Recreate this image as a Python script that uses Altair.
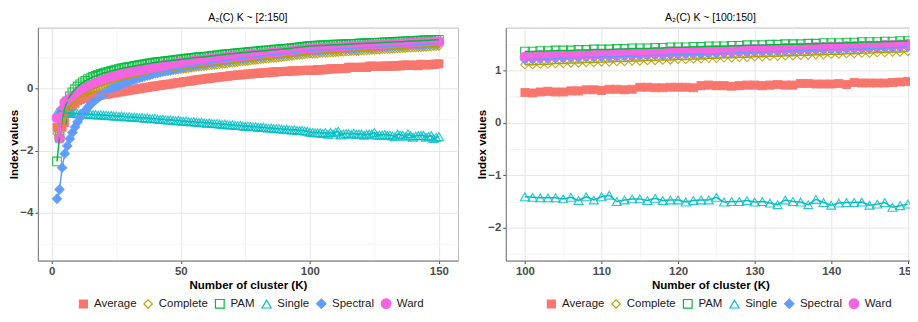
import altair as alt
import pandas as pd

METHODS = ["Average", "Complete", "PAM", "Single", "Spectral", "Ward"]
COLORS = ["#F8766D", "#B79F00", "#00BA38", "#00BFC4", "#619CFF", "#F564E3"]
FILLS = ["#F8766D", "transparent", "transparent", "transparent", "#619CFF", "#F564E3"]
SHAPES = ["square", "diamond", "square", "triangle-up", "diamond", "circle"]
SIZES = [64, 95, 64, 85, 60, 64]

K = list(range(2, 151))

AVERAGE = [
    -1.25, -1.60, -1.25, -1.10, -0.72, -0.75, -0.55, -0.48, -0.40, -0.36,
    -0.33, -0.31, -0.29, -0.27, -0.26, -0.24, -0.23, -0.22, -0.20, -0.19,
    -0.18, -0.16, -0.15, -0.13, -0.12, -0.11, -0.09, -0.08, -0.06, -0.05,
    -0.04, -0.02, -0.01, 0.00, 0.02, 0.03, 0.04, 0.06, 0.07, 0.08,
    0.09, 0.11, 0.12, 0.13, 0.14, 0.16, 0.17, 0.18, 0.19, 0.21,
    0.22, 0.23, 0.24, 0.26, 0.27, 0.28, 0.29, 0.30, 0.31, 0.32,
    0.33, 0.34, 0.35, 0.36, 0.37, 0.38, 0.39, 0.40, 0.41, 0.42,
    0.43, 0.43, 0.44, 0.45, 0.46, 0.46, 0.47, 0.48, 0.48, 0.49,
    0.50, 0.50, 0.51, 0.52, 0.52, 0.53, 0.53, 0.54, 0.54, 0.55,
    0.55, 0.56, 0.56, 0.56, 0.57, 0.57, 0.58, 0.58,
    0.58, 0.57, 0.59, 0.60, 0.59, 0.59, 0.61, 0.61, 0.63, 0.63,
    0.62, 0.64, 0.64, 0.63, 0.64, 0.68, 0.68, 0.67, 0.67, 0.68,
    0.68, 0.68, 0.67, 0.71, 0.72, 0.71, 0.71, 0.70, 0.71, 0.72,
    0.72, 0.71, 0.72, 0.73, 0.72, 0.72, 0.75, 0.75, 0.74, 0.74,
    0.74, 0.75, 0.73, 0.77, 0.76, 0.76, 0.76, 0.76, 0.77, 0.78, 0.79,
]

COMPLETE = [
    -1.45, -1.20, -0.98, -0.82, -0.68, -0.57, -0.48, -0.40, -0.33, -0.27,
    -0.21, -0.16, -0.11, -0.07, -0.03, 0.01, 0.04, 0.07, 0.10, 0.13,
    0.16, 0.18, 0.21, 0.23, 0.25, 0.27, 0.29, 0.31, 0.33, 0.35,
    0.37, 0.38, 0.40, 0.41, 0.43, 0.44, 0.46, 0.47, 0.49, 0.50,
    0.51, 0.53, 0.54, 0.55, 0.56, 0.58, 0.59, 0.60, 0.61, 0.62,
    0.63, 0.64, 0.66, 0.67, 0.68, 0.69, 0.70, 0.71, 0.72, 0.73,
    0.74, 0.75, 0.76, 0.77, 0.78, 0.79, 0.80, 0.81, 0.82, 0.83,
    0.84, 0.85, 0.86, 0.87, 0.88, 0.89, 0.90, 0.91, 0.92, 0.93,
    0.94, 0.95, 0.96, 0.97, 0.97, 0.98, 0.99, 1.00, 1.01, 1.02,
    1.03, 1.04, 1.05, 1.06, 1.07, 1.08, 1.09, 1.10,
    1.11, 1.11, 1.12, 1.12, 1.13, 1.13, 1.14, 1.14, 1.15, 1.15,
    1.16, 1.16, 1.17, 1.17, 1.18, 1.18, 1.19, 1.19, 1.20, 1.20,
    1.21, 1.21, 1.22, 1.22, 1.23, 1.23, 1.24, 1.24, 1.25, 1.25,
    1.26, 1.26, 1.27, 1.27, 1.28, 1.28, 1.29, 1.29, 1.30, 1.30,
    1.31, 1.31, 1.32, 1.32, 1.33, 1.33, 1.34, 1.34, 1.35, 1.35, 1.36,
]

PAM = [
    -2.35, -1.55, -1.00, -0.65, -0.42, -0.26, -0.13, -0.03, 0.06, 0.13,
    0.19, 0.24, 0.29, 0.33, 0.37, 0.40, 0.43, 0.46, 0.49, 0.51,
    0.53, 0.56, 0.58, 0.60, 0.62, 0.64, 0.66, 0.67, 0.69, 0.70,
    0.72, 0.73, 0.75, 0.76, 0.78, 0.79, 0.80, 0.82, 0.83, 0.84,
    0.85, 0.86, 0.87, 0.88, 0.89, 0.90, 0.91, 0.92, 0.93, 0.94,
    0.95, 0.96, 0.97, 0.98, 0.99, 1.00, 1.00, 1.01, 1.02, 1.03,
    1.04, 1.05, 1.06, 1.07, 1.08, 1.09, 1.10, 1.10, 1.11, 1.12,
    1.13, 1.14, 1.15, 1.15, 1.16, 1.17, 1.18, 1.18, 1.19, 1.20,
    1.21, 1.21, 1.22, 1.23, 1.24, 1.24, 1.25, 1.26, 1.27, 1.27,
    1.28, 1.29, 1.30, 1.31, 1.32, 1.33, 1.34, 1.35,
    1.36, 1.36, 1.37, 1.37, 1.38, 1.38, 1.38, 1.39, 1.39, 1.40,
    1.40, 1.40, 1.41, 1.41, 1.42, 1.42, 1.42, 1.43, 1.43, 1.44,
    1.44, 1.44, 1.45, 1.45, 1.46, 1.46, 1.46, 1.47, 1.47, 1.48,
    1.48, 1.48, 1.49, 1.49, 1.50, 1.50, 1.50, 1.51, 1.51, 1.52,
    1.52, 1.52, 1.53, 1.53, 1.54, 1.54, 1.54, 1.55, 1.55, 1.56, 1.56,
]

SINGLE = [
    -0.78, -0.72, -0.76, -0.79, -0.80, -0.78, -0.81, -0.80, -0.82, -0.81,
    -0.83, -0.82, -0.84, -0.83, -0.85, -0.84, -0.86, -0.85, -0.87, -0.86,
    -0.88, -0.87, -0.89, -0.89, -0.90, -0.89, -0.91, -0.92, -0.91, -0.93,
    -0.92, -0.94, -0.95, -0.94, -0.96, -0.95, -0.97, -0.98, -0.97, -0.99,
    -1.00, -0.99, -1.01, -1.02, -1.01, -1.03, -1.04, -1.03, -1.05, -1.06,
    -1.05, -1.07, -1.08, -1.07, -1.09, -1.10, -1.09, -1.11, -1.12, -1.11,
    -1.13, -1.14, -1.13, -1.15, -1.16, -1.15, -1.17, -1.18, -1.17, -1.19,
    -1.20, -1.19, -1.21, -1.22, -1.21, -1.23, -1.24, -1.23, -1.25, -1.26,
    -1.25, -1.27, -1.28, -1.27, -1.29, -1.30, -1.29, -1.31, -1.32, -1.31,
    -1.33, -1.34, -1.33, -1.35, -1.36, -1.35, -1.37, -1.38,
    -1.41, -1.42, -1.43, -1.43, -1.43, -1.45, -1.42, -1.48, -1.41, -1.47,
    -1.41, -1.38, -1.50, -1.47, -1.45, -1.45, -1.48, -1.44, -1.48, -1.47,
    -1.47, -1.51, -1.48, -1.47, -1.47, -1.42, -1.51, -1.50, -1.50, -1.48,
    -1.51, -1.50, -1.53, -1.56, -1.47, -1.50, -1.51, -1.56, -1.46, -1.52,
    -1.57, -1.53, -1.52, -1.52, -1.51, -1.57, -1.55, -1.52, -1.61, -1.58, -1.55,
]

SPECTRAL = [
    -3.55, -3.25, -2.55, -2.10, -1.85, -1.62, -1.42, -1.24, -1.08, -0.94,
    -0.82, -0.71, -0.61, -0.52, -0.44, -0.37, -0.30, -0.24, -0.18, -0.13,
    -0.08, -0.03, 0.01, 0.05, 0.09, 0.13, 0.16, 0.19, 0.23, 0.26,
    0.28, 0.31, 0.34, 0.36, 0.39, 0.41, 0.43, 0.46, 0.48, 0.50,
    0.52, 0.54, 0.56, 0.58, 0.59, 0.61, 0.63, 0.64, 0.66, 0.68,
    0.69, 0.71, 0.72, 0.74, 0.75, 0.76, 0.78, 0.79, 0.80, 0.82,
    0.83, 0.84, 0.85, 0.86, 0.88, 0.89, 0.90, 0.91, 0.92, 0.93,
    0.94, 0.95, 0.96, 0.97, 0.98, 0.99, 1.00, 1.01, 1.02, 1.03,
    1.04, 1.05, 1.06, 1.07, 1.08, 1.09, 1.10, 1.10, 1.11, 1.12,
    1.13, 1.14, 1.15, 1.16, 1.17, 1.18, 1.19, 1.20,
    1.21, 1.21, 1.22, 1.22, 1.23, 1.23, 1.24, 1.24, 1.25, 1.25,
    1.26, 1.26, 1.26, 1.27, 1.27, 1.28, 1.28, 1.29, 1.29, 1.30,
    1.30, 1.31, 1.31, 1.31, 1.32, 1.32, 1.33, 1.33, 1.34, 1.34,
    1.35, 1.35, 1.36, 1.36, 1.37, 1.37, 1.38, 1.38, 1.39, 1.39,
    1.40, 1.40, 1.41, 1.41, 1.41, 1.42, 1.42, 1.43, 1.43, 1.44, 1.45,
]

WARD = [
    -0.95, -1.60, -0.70, -0.45, -0.40, -0.34, -0.28, -0.22, -0.16, -0.10,
    -0.05, 0.00, 0.04, 0.08, 0.12, 0.16, 0.20, 0.23, 0.26, 0.29,
    0.32, 0.35, 0.38, 0.40, 0.43, 0.45, 0.47, 0.49, 0.51, 0.53,
    0.55, 0.57, 0.59, 0.60, 0.62, 0.64, 0.65, 0.67, 0.68, 0.70,
    0.71, 0.72, 0.74, 0.75, 0.76, 0.78, 0.79, 0.80, 0.81, 0.82,
    0.83, 0.85, 0.86, 0.87, 0.88, 0.89, 0.90, 0.91, 0.92, 0.93,
    0.94, 0.95, 0.96, 0.97, 0.98, 0.99, 0.99, 1.00, 1.01, 1.02,
    1.03, 1.04, 1.04, 1.05, 1.06, 1.07, 1.08, 1.08, 1.09, 1.10,
    1.11, 1.11, 1.12, 1.13, 1.14, 1.14, 1.15, 1.16, 1.17, 1.17,
    1.18, 1.19, 1.20, 1.21, 1.22, 1.23, 1.24, 1.25,
    1.26, 1.26, 1.27, 1.27, 1.28, 1.28, 1.29, 1.29, 1.30, 1.30,
    1.31, 1.31, 1.31, 1.32, 1.32, 1.33, 1.33, 1.34, 1.34, 1.35,
    1.35, 1.36, 1.36, 1.37, 1.37, 1.38, 1.38, 1.38, 1.39, 1.39,
    1.40, 1.40, 1.41, 1.41, 1.42, 1.42, 1.43, 1.43, 1.44, 1.44,
    1.45, 1.45, 1.46, 1.46, 1.46, 1.47, 1.47, 1.48, 1.48, 1.49, 1.50,
]

SERIES = {
    "Average": AVERAGE, "Complete": COMPLETE, "PAM": PAM,
    "Single": SINGLE, "Spectral": SPECTRAL, "Ward": WARD,
}

rows = []
for m in METHODS:
    vals = SERIES[m]
    assert len(vals) == len(K), (m, len(vals))
    for k, v in zip(K, vals):
        rows.append({"K": k, "value": v, "method": m})
df = pd.DataFrame(rows)

FONT = "Liberation Sans"
MAJOR_GRID = "#e6e6e6"
MINOR_GRID = "#f3f3f3"
PLOT_H = 234


def axis(values, title, step, title_pad):
    test = f"abs(datum.value / {step} - round(datum.value / {step})) < 0.001"
    return alt.Axis(
        values=values,
        title=title,
        titlePadding=title_pad,
        labelOverlap=False,
        labelExpr=f"({test}) ? format(datum.value, 'd') : ''",
        gridColor={"condition": {"test": test, "value": MAJOR_GRID}, "value": MINOR_GRID},
        tickOpacity={"condition": {"test": test, "value": 1}, "value": 0},
    )


def panel(data, title, xdom, ydom, xvals, xstep, yvals, ystep, width):
    x = alt.X("K:Q", scale=alt.Scale(domain=xdom, nice=False, zero=False),
              axis=axis(xvals, "Number of cluster (K)", xstep, 3))
    y = alt.Y("value:Q", scale=alt.Scale(domain=ydom, nice=False, zero=False),
              axis=axis(yvals, "Index values", ystep, 0))
    leg = alt.Legend(title=None, orient="none", direction="horizontal", legendX=40, legendY=PLOT_H + 37)
    stroke = alt.Stroke("method:N", scale=alt.Scale(domain=METHODS, range=COLORS), legend=leg)
    pts = alt.Chart(data).mark_point(opacity=1, strokeWidth=1.1, fillOpacity=1, strokeOpacity=0.85).encode(
        x=x, y=y,
        stroke=stroke,
        fill=alt.Fill("method:N", scale=alt.Scale(domain=METHODS, range=FILLS), legend=leg),
        shape=alt.Shape("method:N", scale=alt.Scale(domain=METHODS, range=SHAPES), legend=leg),
        size=alt.Size("method:N", scale=alt.Scale(domain=METHODS, range=SIZES), legend=leg),
    )
    lines = alt.Chart(data).mark_line(strokeWidth=1.5).encode(x=x, y=y, stroke=stroke)
    return alt.layer(pts, lines).properties(
        width=width, height=PLOT_H,
        title=alt.TitleParams(title, fontSize=10.5, fontWeight="normal", font=FONT, color="black", offset=4),
    )


left = panel(
    df, "A\u2082(C)  K ~ [2:150]", [-5.4, 157.4], [-5.536, 1.952],
    [0, 25, 50, 75, 100, 125, 150], 50,
    [-5, -4, -3, -2, -1, 0, 1], 2, 422,
)
right = panel(
    df[df["K"] >= 100], "A\u2082(C)  K ~ [100:150]", [97.5, 150.94], [-2.626, 1.817],
    list(range(100, 151, 5)), 10,
    [-2.5, -2, -1.5, -1, -0.5, 0, 0.5, 1, 1.5], 1, 411,
)

chart = (
    alt.hconcat(left, right, spacing=17)
    .resolve_scale(x="independent", y="independent", stroke="independent",
                   fill="independent", shape="independent", size="independent")
    .resolve_legend(stroke="independent", fill="independent", shape="independent", size="independent")
    .properties(padding={"left": 0, "top": 4, "right": -8, "bottom": 0})
    .configure_view(stroke="#bdbdbd", strokeWidth=1)
    .configure_axis(
        labelFont=FONT, labelFontSize=11.5, labelFontWeight="bold", labelColor="#4d4d4d",
        titleFont=FONT, titleFontSize=11.6, titleFontWeight="bold", titleColor="black",
        domainColor="#7a7a7a", domainWidth=1, tickColor="#4d4d4d", tickSize=3,
        labelPadding=2, grid=True, gridWidth=1,
    )
    .configure_legend(
        labelFont=FONT, labelFontSize=11.5,
        labelColor="#1a1a1a", symbolStrokeWidth=1.2, labelOffset=5,
        columnPadding=4, padding=0,
    )
)

chart.save("out.html", embed_options={"renderer": "svg", "actions": False})
